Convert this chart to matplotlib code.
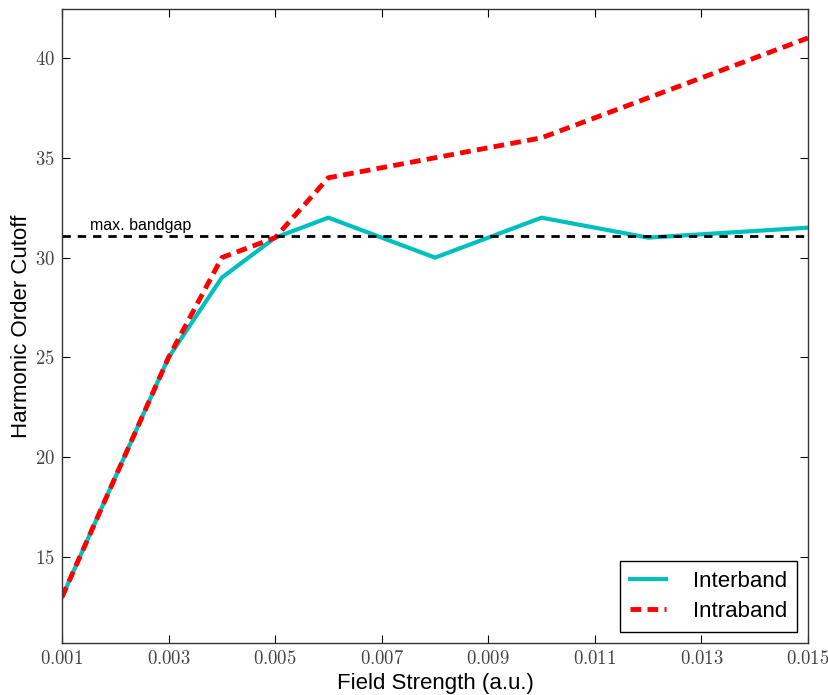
import matplotlib
matplotlib.use("Agg")
import matplotlib.pyplot as plt
from matplotlib.ticker import FixedLocator, FuncFormatter

# Cutoff harmonic order vs. field strength
field = [0.001, 0.003, 0.004, 0.005, 0.006, 0.008, 0.010, 0.012, 0.015]
interband = [13, 25, 29, 31, 32, 30, 32, 31, 31.5]
intraband = [13, 25, 30, 31, 34, 35, 36, 38, 41]
bandgap = 31.1

x_ticks = [0.001, 0.003, 0.005, 0.007, 0.009, 0.011, 0.013, 0.015]
y_ticks = [15, 20, 25, 30, 35, 40]

plt.rcParams["mathtext.fontset"] = "cm"
plt.rcParams["font.family"] = ["Liberation Sans", "DejaVu Sans"]

fig = plt.figure(figsize=(8.29, 6.95), dpi=100)
ax = fig.add_axes([62 / 829, 1 - 643 / 695, (808 - 62) / 829, (643 - 9) / 695])

ax.plot(field, interband, color=(0, 0.75, 0.75), lw=3, label="Interband")
ax.plot(field, intraband, color="red", lw=3.5, ls=(0, (2.2, 1.3)), label="Intraband")
ax.axhline(bandgap, color="black", lw=2, ls=(0, (3, 2.5)))
ax.text(0.00152, bandgap + 0.15, "max. bandgap", fontsize=11.5, va="bottom")

ax.set_xlim(0.001, 0.015)
ax.set_ylim(10.7, 42.45)
ax.xaxis.set_major_locator(FixedLocator(x_ticks))
ax.yaxis.set_major_locator(FixedLocator(y_ticks))
ax.xaxis.set_major_formatter(FuncFormatter(lambda v, p: r"$%.3f$" % v))
ax.yaxis.set_major_formatter(FuncFormatter(lambda v, p: r"$%d$" % v))
ax.tick_params(direction="in", top=True, right=True, length=6, width=0.8,
               labelsize=13.5, labelcolor="#444444")
ax.tick_params(axis="x", pad=5)
ax.tick_params(axis="y", pad=5)
for s in ax.spines.values():
    s.set_color("#333333")
    s.set_linewidth(1.0)

ax.set_xlabel("Field Strength (a.u.)", fontsize=16, labelpad=4)
ax.set_ylabel("Harmonic Order Cutoff", fontsize=16, labelpad=2)

leg = ax.legend(loc="lower right", fontsize=16, fancybox=False, framealpha=1,
                edgecolor="black", handlelength=1.6, handletextpad=1.2,
                borderpad=0.45, labelspacing=0.4, borderaxespad=0.5)
leg.get_frame().set_linewidth(1.0)

fig.savefig("out.png", dpi=100, facecolor="white")
